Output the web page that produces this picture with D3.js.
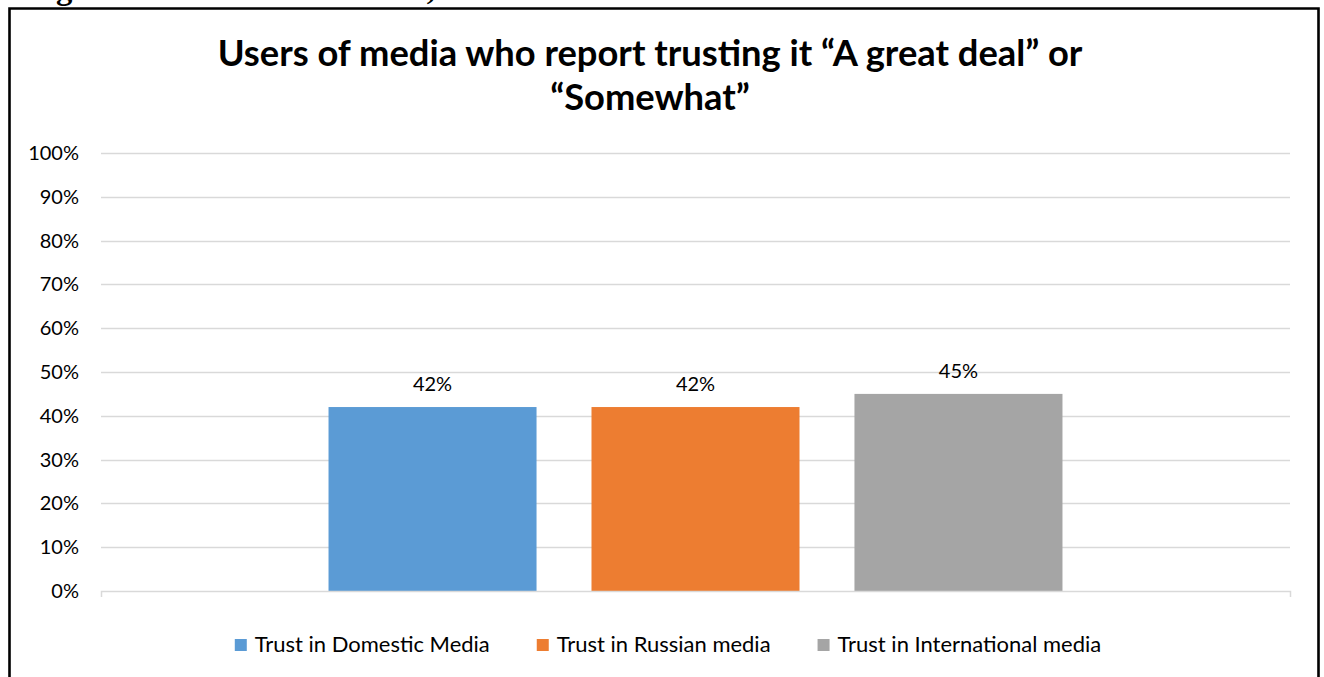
<!DOCTYPE html>
<html>
<head>
<meta charset="utf-8">
<script src="https://cdnjs.cloudflare.com/ajax/libs/d3/7.8.5/d3.min.js"></script>
<style>
  html, body { margin: 0; padding: 0; background: #fff; }
  svg { display: block; }
</style>
</head>
<body>
<svg id="chart" width="1324" height="677"></svg>
<script>
// Survey results: share of media users trusting each media type
const categories = ["Trust"];
const seriesNames = ["Trust in Domestic Media", "Trust in Russian media", "Trust in International media"];
const seriesValues = [0.42, 0.42, 0.45];
const seriesColors = ["#5B9BD5", "#ED7D31", "#A5A5A5"];
const yTicks = [0, 0.1, 0.2, 0.3, 0.4, 0.5, 0.6, 0.7, 0.8, 0.9, 1.0];
const titleLines = ["Users of media who report trusting it \u201CA great deal\u201D or", "\u201CSomewhat\u201D"];
const captionText = "Figure 13: Trust in Domestic, Russian and International Media in Moldova";

const svg = d3.select("#chart");
const font = "Lato, 'Open Sans', sans-serif";

const plot = { left: 101, right: 1290, top: 153, bottom: 591 };

// Document caption above the chart frame (runs past the top page edge)
const cap = svg.append("text")
  .attr("x", 27).attr("y", -1)
  .attr("font-family", "'Liberation Serif', 'Times New Roman', serif")
  .attr("font-weight", "bold")
  .attr("font-size", 26)
  .attr("fill", "#000")
  .text(captionText);
const capW = cap.node().getComputedTextLength();
cap.attr("font-size", 26 * 1046 / capW);

// Chart frame
svg.append("path")
  .attr("d", "M9.5,690 V8.5 H1318.5 V690")
  .attr("fill", "none")
  .attr("stroke", "#000")
  .attr("stroke-width", 2.6);

// Scales
const y = d3.scaleLinear().domain([0, 1]).range([plot.bottom, plot.top]);
const x0 = d3.scaleBand().domain(categories).range([plot.left, plot.right])
  .paddingInner(0).paddingOuter(0.31);
const x1 = d3.scaleBand().domain(seriesNames).range([0, x0.bandwidth()])
  .paddingInner(0.209).paddingOuter(0);

// Gridlines
svg.append("g").selectAll("line")
  .data(yTicks.filter(d => d > 0))
  .join("line")
  .attr("x1", plot.left).attr("x2", plot.right)
  .attr("y1", d => Math.round(y(d)) + 0.5).attr("y2", d => Math.round(y(d)) + 0.5)
  .attr("stroke", "#D9D9D9").attr("stroke-width", 1.3);

// Y axis labels
const yAxis = d3.axisLeft(y).tickValues(yTicks).tickFormat(d3.format(".0%")).tickSize(0).tickPadding(22);
const gy = svg.append("g").attr("transform", `translate(${plot.left},0)`).call(yAxis);
gy.select(".domain").remove();
gy.selectAll("text")
  .attr("font-family", font).attr("font-size", 20).attr("fill", "#000");

// Bars
const barG = svg.append("g");
barG.selectAll("rect")
  .data(seriesNames.map((n, i) => ({ name: n, value: seriesValues[i], color: seriesColors[i] })))
  .join("rect")
  .attr("x", d => x0(categories[0]) + x1(d.name))
  .attr("width", x1.bandwidth())
  .attr("y", d => y(d.value))
  .attr("height", d => y(0) - y(d.value))
  .attr("fill", d => d.color);

// Data labels
barG.selectAll("text")
  .data(seriesNames.map((n, i) => ({ name: n, value: seriesValues[i] })))
  .join("text")
  .attr("x", d => x0(categories[0]) + x1(d.name) + x1.bandwidth() / 2)
  .attr("y", d => y(d.value) - 16)
  .attr("text-anchor", "middle")
  .attr("font-family", font).attr("font-size", 20).attr("fill", "#000")
  .text(d => d3.format(".0%")(d.value));

// Category axis line with boundary ticks
const xAxis = d3.axisBottom(x0).tickValues([]).tickSizeOuter(6);
const gx = svg.append("g").attr("transform", `translate(0,${plot.bottom})`).call(xAxis);
gx.select(".domain").attr("stroke", "#D9D9D9").attr("stroke-width", 1.5);

// Title, sized so the first line spans about 865px
const title = svg.append("text")
  .attr("text-anchor", "middle")
  .attr("font-family", font).attr("font-weight", "bold").attr("font-size", 29).attr("fill", "#000");
title.selectAll("tspan").data(titleLines).join("tspan")
  .attr("x", 650)
  .attr("y", (d, i) => 66 + i * 44)
  .text(d => d);
const t1w = title.select("tspan").node().getComputedTextLength();
title.attr("font-size", 29 * 865 / t1w);

// Legend
const legend = svg.append("g");
const items = legend.selectAll("g").data(seriesNames).join("g");
items.append("rect").attr("width", 12).attr("height", 12).attr("y", -13)
  .attr("fill", (d, i) => seriesColors[i]);
const legendText = items.append("text").attr("x", 20).attr("y", 0)
  .attr("font-family", font).attr("font-size", 20).attr("fill", "#000")
  .text(d => d);
const firstW = legendText.node().getComputedTextLength();
legendText.attr("font-size", 20 * 235 / firstW);
let cursor = 0;
const positions = [];
items.each(function () {
  const w = 20 + d3.select(this).select("text").node().getComputedTextLength();
  positions.push(cursor);
  cursor += w + 47;
});
const total = cursor - 47;
const startX = 668 - total / 2;
items.attr("transform", (d, i) => `translate(${startX + positions[i]},652)`);
</script>
</body>
</html>
